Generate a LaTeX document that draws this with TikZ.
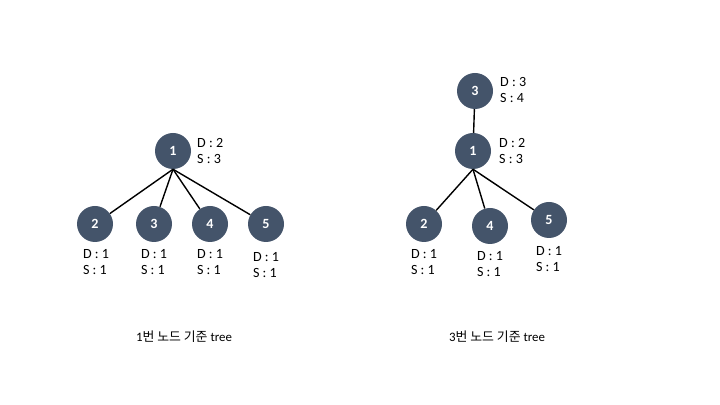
\documentclass[tikz,border=0pt]{standalone}
\usepackage{fontspec}
\setmainfont{Carlito}
\newfontfamily\krfont{Noto Sans CJK KR}
\usepackage{xcolor}
\definecolor{nodeslate}{HTML}{44546A}

\begin{document}
\begin{tikzpicture}[x=0.03cm,y=-0.03cm,
  every node/.style={font=\fontsize{11}{13}\selectfont},
  vertex/.style={circle,fill=nodeslate,minimum size=1.08cm,inner sep=0pt,
    text=white,font=\fontsize{12}{14}\selectfont\bfseries},
  info/.style={align=left,inner sep=0pt,font=\fontsize{12}{13.5}\selectfont},
  edge/.style={line width=1.2pt}]
\useasboundingbox (0,0) rectangle (720,405);
% left tree, rooted at 1
\node[vertex] (La) at (173,151) {1};
\node[vertex] (Lb) at (95,224) {2};
\node[vertex] (Lc) at (154,224) {3};
\node[vertex] (Ld) at (210,224) {4};
\node[vertex] (Le) at (266,224) {5};
\node[info,anchor=west] (La info) at (197,151) {D : 2\\S : 3};
\node[info] (Lb info) at (96,262) {D : 1\\S : 1};
\node[info] (Lc info) at (154,262) {D : 1\\S : 1};
\node[info] (Ld info) at (210,262) {D : 1\\S : 1};
\node[info] (Le info) at (266,265) {D : 1\\S : 1};
\draw[edge] (La.south) -- (Lb);
\draw[edge] (La.south) -- (Lc);
\draw[edge] (La.south) -- (Ld);
\draw[edge] (La.south) -- (Le);
\node (Lcap) at (184,337) {1{\krfont 번 노드 기준} tree};
% right tree, rooted at 3
\node[vertex] (Rc) at (475,91) {3};
\node[vertex] (Ra) at (473,151) {1};
\node[vertex] (Rb) at (424,224) {2};
\node[vertex] (Rd) at (490,226) {4};
\node[vertex] (Re) at (549,220) {5};
\node[info,anchor=west] (Rc info) at (500,90) {D : 3\\S : 4};
\node[info,anchor=west] (Ra info) at (499,151) {D : 2\\S : 3};
\node[info] (Rb info) at (424,262) {D : 1\\S : 1};
\node[info] (Rd info) at (490,264) {D : 1\\S : 1};
\node[info] (Re info) at (549,259) {D : 1\\S : 1};
\draw[edge] (Rc) -- (Ra);
\draw[edge] (Ra.south) -- (Rb);
\draw[edge] (Ra.south) -- (Rd);
\draw[edge] (Ra.south) -- (Re);
\node (Rcap) at (497,337) {3{\krfont 번 노드 기준} tree};
\end{tikzpicture}
\end{document}
